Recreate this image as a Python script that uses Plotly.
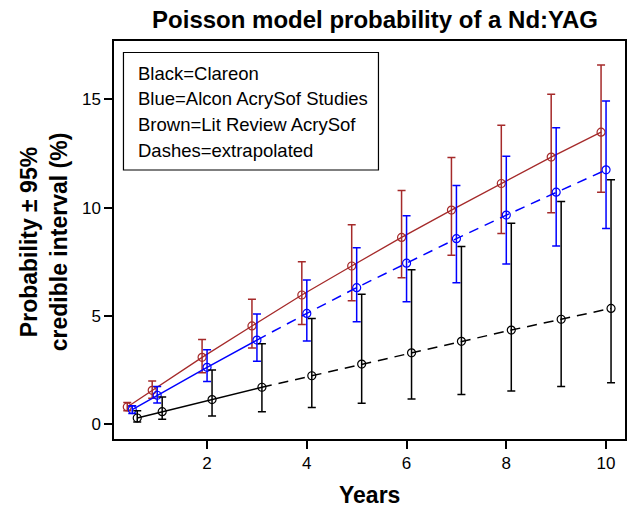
import plotly.graph_objects as go

# ---------------- data ----------------
years = [0.5, 1, 2, 3, 4, 5, 6, 7, 8, 9, 10]

clareon_mean = [0.29, 0.58, 1.14, 1.71, 2.24, 2.78, 3.30, 3.83, 4.35, 4.85, 5.35]
clareon_lo = [0.11, 0.23, 0.38, 0.58, 0.78, 0.97, 1.17, 1.37, 1.54, 1.74, 1.92]
clareon_hi = [0.63, 1.26, 2.51, 3.72, 4.89, 6.01, 7.14, 8.21, 9.28, 10.29, 11.29]

alcon_mean = [0.68, 1.34, 2.63, 3.89, 5.12, 6.31, 7.44, 8.57, 9.66, 10.72, 11.75]
alcon_lo = [0.50, 0.98, 1.97, 2.91, 3.84, 4.73, 5.66, 6.54, 7.40, 8.23, 9.04]
alcon_hi = [0.85, 1.74, 3.44, 5.09, 6.66, 8.15, 9.63, 11.03, 12.38, 13.69, 14.93]

lit_mean = [0.80, 1.57, 3.09, 4.54, 5.97, 7.31, 8.63, 9.89, 11.12, 12.34, 13.49]
lit_lo = [0.62, 1.20, 2.38, 3.52, 4.61, 5.70, 6.77, 7.80, 8.81, 9.77, 10.72]
lit_hi = [1.01, 2.00, 3.91, 5.77, 7.51, 9.21, 10.80, 12.32, 13.81, 15.24, 16.59]

# last observed year (beyond = extrapolated, dashed)
lit_observed_until = 10
alcon_observed_until = 3
clareon_observed_until = 3

legend_lines = ["Black=Clareon", "Blue=Alcon AcrySof Studies",
                "Brown=Lit Review AcrySof", "Dashes=extrapolated"]
x_ticks = [2, 4, 6, 8, 10]
y_ticks = [0, 5, 10, 15]

# ---------------- styling ----------------
W, H = 629, 508
ML, MR, MT, MB = 114, 2, 41, 69
PW, PH = W - ML - MR, H - MT - MB
FONT = "Liberation Sans, Arial, Helvetica, sans-serif"
BROWN = "#A52A2A"
BLUE = "#0000FF"
BLACK = "#000000"


def px_x(p):
    return (p - ML) / PW


def px_y(p):
    return (H - MB - p) / PH


fig = go.Figure()

series = [
    (lit_mean, lit_lo, lit_hi, lit_observed_until, BROWN, -0.1, 1.3),
    (alcon_mean, alcon_lo, alcon_hi, alcon_observed_until, BLUE, 0.0, 1.5),
    (clareon_mean, clareon_lo, clareon_hi, clareon_observed_until, BLACK, 0.1, 1.5),
]

for mean, lo, hi, obs, col, off, lw in series:
    xs = [y + off for y in years]
    obs_idx = [i for i, y in enumerate(years) if y <= obs]
    ext_idx = [i for i, y in enumerate(years) if y >= obs]
    fig.add_trace(go.Scatter(
        x=[xs[i] for i in obs_idx], y=[mean[i] for i in obs_idx],
        mode="lines", line=dict(color=col, width=lw), hoverinfo="skip"))
    if len(ext_idx) > 1:
        fig.add_trace(go.Scatter(
            x=[xs[i] for i in ext_idx], y=[mean[i] for i in ext_idx],
            mode="lines", line=dict(color=col, width=lw, dash="10px,7px"),
            hoverinfo="skip"))
    fig.add_trace(go.Scatter(
        x=xs, y=mean, mode="markers",
        marker=dict(symbol="circle-open", size=8, color=col,
                    line=dict(color=col, width=1.2)),
        error_y=dict(type="data", symmetric=False,
                     array=[h - m for h, m in zip(hi, mean)],
                     arrayminus=[m - l for m, l in zip(mean, lo)],
                     color=col, thickness=1.5, width=4)))

axis_common = dict(
    showline=True, linecolor="black", linewidth=1.5, mirror=True,
    ticks="outside", ticklen=8, tickwidth=1.5, tickcolor="black",
    showgrid=False, zeroline=False,
    tickfont=dict(family=FONT, size=17, color="black"),
)

fig.update_layout(
    width=W, height=H,
    margin=dict(l=ML, r=MR, t=MT, b=MB),
    paper_bgcolor="white", plot_bgcolor="white",
    showlegend=False,
    title=dict(text="Poisson model probability of a Nd:YAG",
               font=dict(family=FONT, size=24, color="black", weight="bold"),
               xref="container", x=375 / W, xanchor="center",
               yref="container", y=1 - 20 / H, yanchor="middle"),
    xaxis=dict(range=[0.134, 10.38], tickvals=x_ticks, **axis_common),
    yaxis=dict(range=[-0.68, 17.70], tickvals=y_ticks, **axis_common),
)

# axis titles
fig.add_annotation(text="<b>Years</b>", xref="paper", yref="paper",
                   x=px_x(370), y=px_y(495), showarrow=False,
                   xanchor="center", yanchor="middle",
                   font=dict(family=FONT, size=23, color="black"))
fig.add_annotation(text="<b>Probability ± 95%<br>credible interval (%)</b>",
                   xref="paper", yref="paper", x=px_x(44), y=px_y(242),
                   showarrow=False, textangle=-90,
                   xanchor="center", yanchor="middle",
                   font=dict(family=FONT, size=23, color="black"))

# legend box
fig.add_shape(type="rect", xref="paper", yref="paper",
              x0=px_x(123.5), x1=px_x(379.5), y0=px_y(170), y1=px_y(52.5),
              line=dict(color="black", width=1.2), fillcolor="white", layer="below")
for txt, py in zip(legend_lines, [74, 99, 124.5, 150]):
    fig.add_annotation(text=txt, xref="paper", yref="paper",
                       x=px_x(136.5), y=px_y(py), showarrow=False,
                       xanchor="left", yanchor="middle",
                       font=dict(family=FONT, size=18.5, color="black"))

fig.write_html("out.html", config={"displayModeBar": False},
               post_script="document.body.style.margin='0';document.body.style.overflow='hidden';")
